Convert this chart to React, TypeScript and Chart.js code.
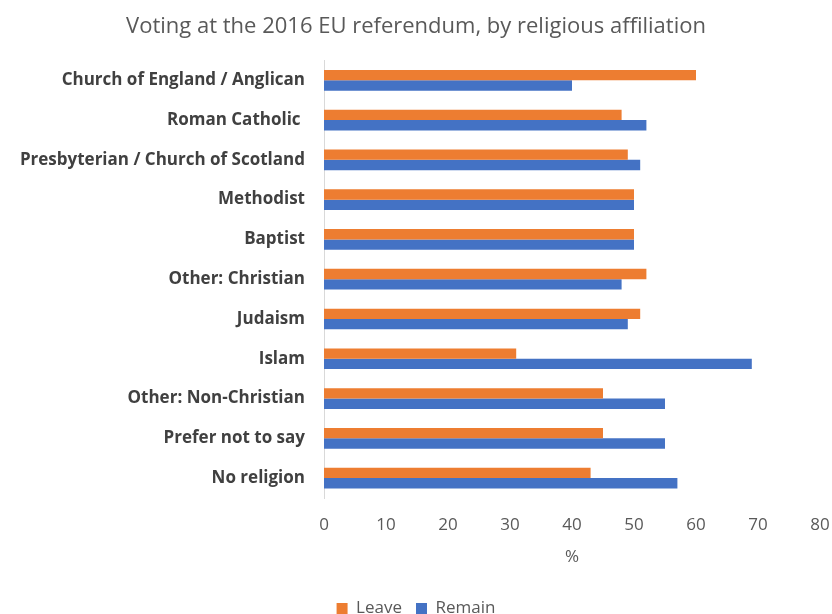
import React, { useEffect, useRef } from "react";
import { Chart, registerables } from "chart.js";

Chart.register(...registerables);

const categories = [
  "Church of England / Anglican",
  "Roman Catholic ",
  "Presbyterian / Church of Scotland",
  "Methodist",
  "Baptist",
  "Other: Christian",
  "Judaism",
  "Islam",
  "Other: Non-Christian",
  "Prefer not to say",
  "No religion",
];

const leaveValues = [60, 48, 49, 50, 50, 52, 51, 31, 45, 45, 43];
const remainValues = [40, 52, 51, 50, 50, 48, 49, 69, 55, 55, 57];

const xTicks = [0, 10, 20, 30, 40, 50, 60, 70, 80];

const FONT = "'Open Sans', 'Noto Sans', sans-serif";

export default function App() {
  const ref = useRef<HTMLCanvasElement | null>(null);

  useEffect(() => {
    document.body.style.margin = "0";
    const ctx = ref.current!;
    const chart = new Chart(ctx, {
      type: "bar",
      data: {
        labels: categories,
        datasets: [
          {
            label: "Leave",
            data: leaveValues,
            backgroundColor: "#ED7D31",
            borderWidth: 0,
          },
          {
            label: "Remain",
            data: remainValues,
            backgroundColor: "#4472C4",
            borderWidth: 0,
          },
        ],
      },
      options: {
        indexAxis: "y",
        animation: false,
        responsive: false,
        maintainAspectRatio: false,
        datasets: {
          bar: { barPercentage: 1, categoryPercentage: 0.52 },
        },
        layout: { padding: { left: 0, right: 0, top: 0, bottom: -13 } },
        plugins: {
          title: {
            display: true,
            text: "Voting at the 2016 EU referendum, by religious affiliation",
            color: "#595959",
            font: { family: FONT, size: 22, weight: "normal" },
            padding: { top: 14, bottom: 20 },
          },
          legend: {
            position: "bottom",
            labels: {
              color: "#595959",
              font: { family: FONT, size: 17 },
              boxWidth: 11,
              boxHeight: 11,
              padding: 14,
            },
          },
          tooltip: { enabled: false },
        },
        scales: {
          x: {
            min: 0,
            max: 80,
            afterBuildTicks: (scale: any) => {
              scale.ticks = xTicks.map((v) => ({ value: v }));
            },
            afterFit: (scale: any) => {
              scale.paddingRight = 12;
            },
            grid: { display: false, drawTicks: false },
            border: { display: false },
            ticks: {
              color: "#595959",
              font: { family: FONT, size: 17, lineHeight: 1 },
              padding: 19,
            },
            title: {
              display: true,
              text: "%",
              color: "#595959",
              font: { family: FONT, size: 17, lineHeight: 1 },
              padding: { top: -4, bottom: 20 },
            },
          },
          y: {
            grid: { display: false, drawTicks: false },
            border: { display: true, color: "#d9d9d9", width: 1 },
            afterFit: (scale: any) => {
              scale.width = 324;
            },
            ticks: {
              color: "#404040",
              font: { family: FONT, size: 17, weight: "bold" },
              padding: 19,
            },
          },
        },
      },
    });
    return () => chart.destroy();
  }, []);

  return (
    <div style={{ width: 832, height: 614, background: "#fff" }}>
      <canvas ref={ref} width={832} height={614} />
    </div>
  );
}
